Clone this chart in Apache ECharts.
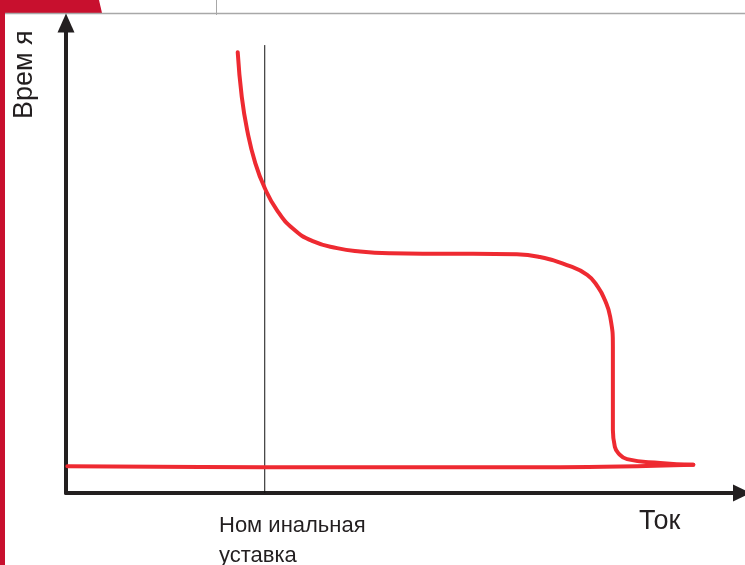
<!DOCTYPE html>
<html>
<head>
<meta charset="utf-8">
<script src="https://cdn.jsdelivr.net/npm/echarts@6/dist/echarts.min.js"></script>
<style>
html,body{margin:0;padding:0;background:#fff;}
#chart{width:745px;height:565px;}
</style>
</head>
<body>
<div id="chart"></div>
<script>
// Time-current characteristic (arbitrary units, 0..100 on both axes)
const curveX = [25.4, 26.0, 26.8, 28.0, 29.4, 31.2, 33.6, 36.5, 40.1, 43.5, 48.0, 52.8, 60.2, 66.7, 70.1, 74.1, 77.1, 78.7, 79.7, 80.5, 80.9, 80.9, 80.9, 81.2, 81.7, 83.0, 87.9, 92.8];
const curveY = [93.8, 84.3, 77.2, 70.2, 64.9, 60.2, 56.2, 53.6, 52.1, 51.4, 51.0, 50.9, 50.9, 50.8, 50.2, 48.5, 46.4, 43.8, 41.1, 37.5, 31.1, 24.0, 13.4, 9.8, 8.5, 7.2, 6.4, 6.0];
const baseX = [0.2, 29.4, 73.1, 92.8];
const baseY = [5.7, 5.5, 5.5, 6.0];
const nominalX = 29.4;
const nominalTop = 95.3;
const labelY = 'Врем я';
const labelNominal = 'Ном инальная\nуставка';
const labelX = 'Ток';

const zip = (xs, ys) => xs.map((x, i) => [x, ys[i]]);

const chart = echarts.init(document.getElementById('chart'));
const axisColor = '#231f20';
const red = '#ee2a31';
chart.setOption({
  animation: false,
  backgroundColor: '#ffffff',
  grid: {left: 66, right: 3, top: 23, bottom: 72},
  xAxis: {
    type: 'value', min: 0, max: 100,
    axisLine: {show: true, lineStyle: {color: axisColor, width: 4}, symbol: ['none', 'triangle'], symbolSize: [17, 18]},
    axisTick: {show: false}, axisLabel: {show: false}, splitLine: {show: false}
  },
  yAxis: {
    type: 'value', min: 0, max: 100,
    axisLine: {show: true, lineStyle: {color: axisColor, width: 4}, symbol: ['none', 'triangle'], symbolSize: [17, 19]},
    axisTick: {show: false}, axisLabel: {show: false}, splitLine: {show: false}
  },
  series: [
    {
      type: 'line', data: [[nominalX, nominalTop], [nominalX, 0]],
      symbol: 'none', lineStyle: {color: '#111', width: 1}, z: 1
    },
    {
      type: 'line', data: zip(baseX, baseY), smooth: 0.4,
      symbol: 'none', lineStyle: {color: red, width: 4, cap: 'round'}, z: 3
    },
    {
      type: 'line', data: zip(curveX, curveY), smooth: 0.5,
      symbol: 'none', lineStyle: {color: red, width: 4, cap: 'round', join: 'round'}, z: 3
    }
  ],
  graphic: [
    {type: 'rect', shape: {x: 0, y: 0, width: 5, height: 565}, style: {fill: '#c8102e'}},
    {type: 'polygon', shape: {points: [[0, 0], [99, 0], [102, 13], [0, 13]]}, style: {fill: '#c8102e'}},
    {type: 'line', shape: {x1: 5, y1: 13.5, x2: 745, y2: 13.5}, style: {stroke: '#a8a8a8', lineWidth: 1.5}},
    {type: 'line', shape: {x1: 216.5, y1: 0, x2: 216.5, y2: 15}, style: {stroke: '#a8a8a8', lineWidth: 1}},
    {type: 'text', x: 38, y: 119, rotation: Math.PI / 2,
      style: {text: labelY, font: '27px "Liberation Sans", Arial, sans-serif', fill: axisColor, textAlign: 'left', verticalAlign: 'bottom'}},
    {type: 'text', x: 219, y: 511,
      style: {text: labelNominal, font: '22px "Liberation Sans", Arial, sans-serif', fill: axisColor, textAlign: 'left', verticalAlign: 'top', lineHeight: 30}},
    {type: 'text', x: 639, y: 508,
      style: {text: labelX, font: '27px "Liberation Sans", Arial, sans-serif', fill: axisColor, textAlign: 'left', verticalAlign: 'top'}}
  ]
});
</script>
</body>
</html>
